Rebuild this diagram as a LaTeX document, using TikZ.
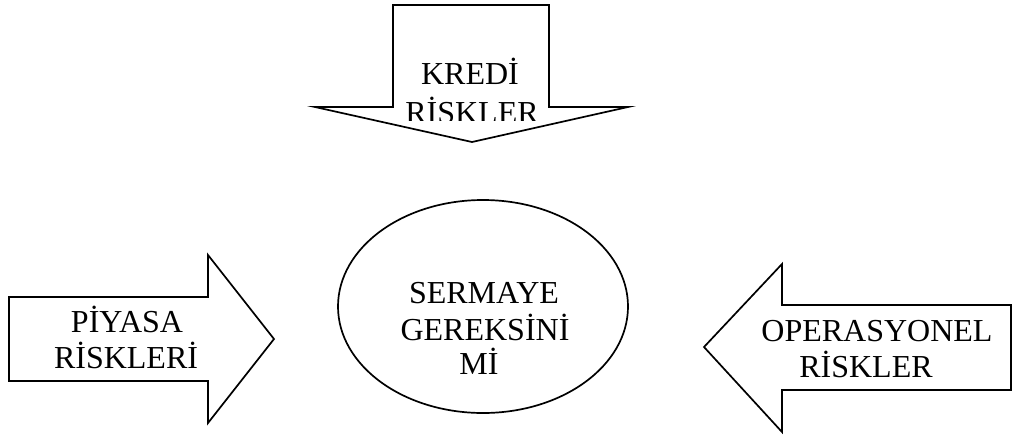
\documentclass[tikz,border=0pt]{standalone}
\usepackage{fontspec}
\setmainfont{Liberation Serif}
\begin{document}
\begin{tikzpicture}[x=1pt,y=-1pt,
  outline/.style={draw=black,line width=1.7pt,fill=white,line join=miter},
  lbl/.style={anchor=base,inner sep=0pt,font=\fontsize{32}{36}\selectfont}]
\useasboundingbox (0,0) rectangle (1012,437);

% block arrow pointing down (credit risks)
\draw[outline] (393,5) -- (549,5) -- (549,107) -- (628,107) -- (472,142)
  -- (315,107) -- (393,107) -- cycle;
% block arrow pointing right (market risks)
\draw[outline] (9,297) -- (208,297) -- (208,255) -- (274,339) -- (208,423)
  -- (208,381) -- (9,381) -- cycle;
% block arrow pointing left (operational risks)
\draw[outline] (1011,305) -- (782,305) -- (782,264) -- (704,347) -- (782,432)
  -- (782,390) -- (1011,390) -- cycle;
% central ellipse
\draw[outline] (483,306.5) ellipse [x radius=145, y radius=106.5];

% labels
\node[lbl] (kredi1) at (470,84) {KREDİ};
\begin{scope}
  \clip (300,90) rectangle (640,120);
  \node[lbl] (kredi2) at (472,123) {RİSKLER};
\end{scope}
\node[lbl] (piyasa1) at (127,332) {PİYASA};
\node[lbl] (piyasa2) at (126,368) {RİSKLERİ};
\node[lbl] (serm1) at (484,303) {SERMAYE};
\node[lbl] (serm2) at (485,340) {GEREKSİNİ};
\node[lbl] (serm3) at (479,374) {Mİ};
\node[lbl] (oper1) at (877,341) {OPERASYONEL};
\node[lbl] (oper2) at (866,377) {RİSKLER};
\end{tikzpicture}
\end{document}
